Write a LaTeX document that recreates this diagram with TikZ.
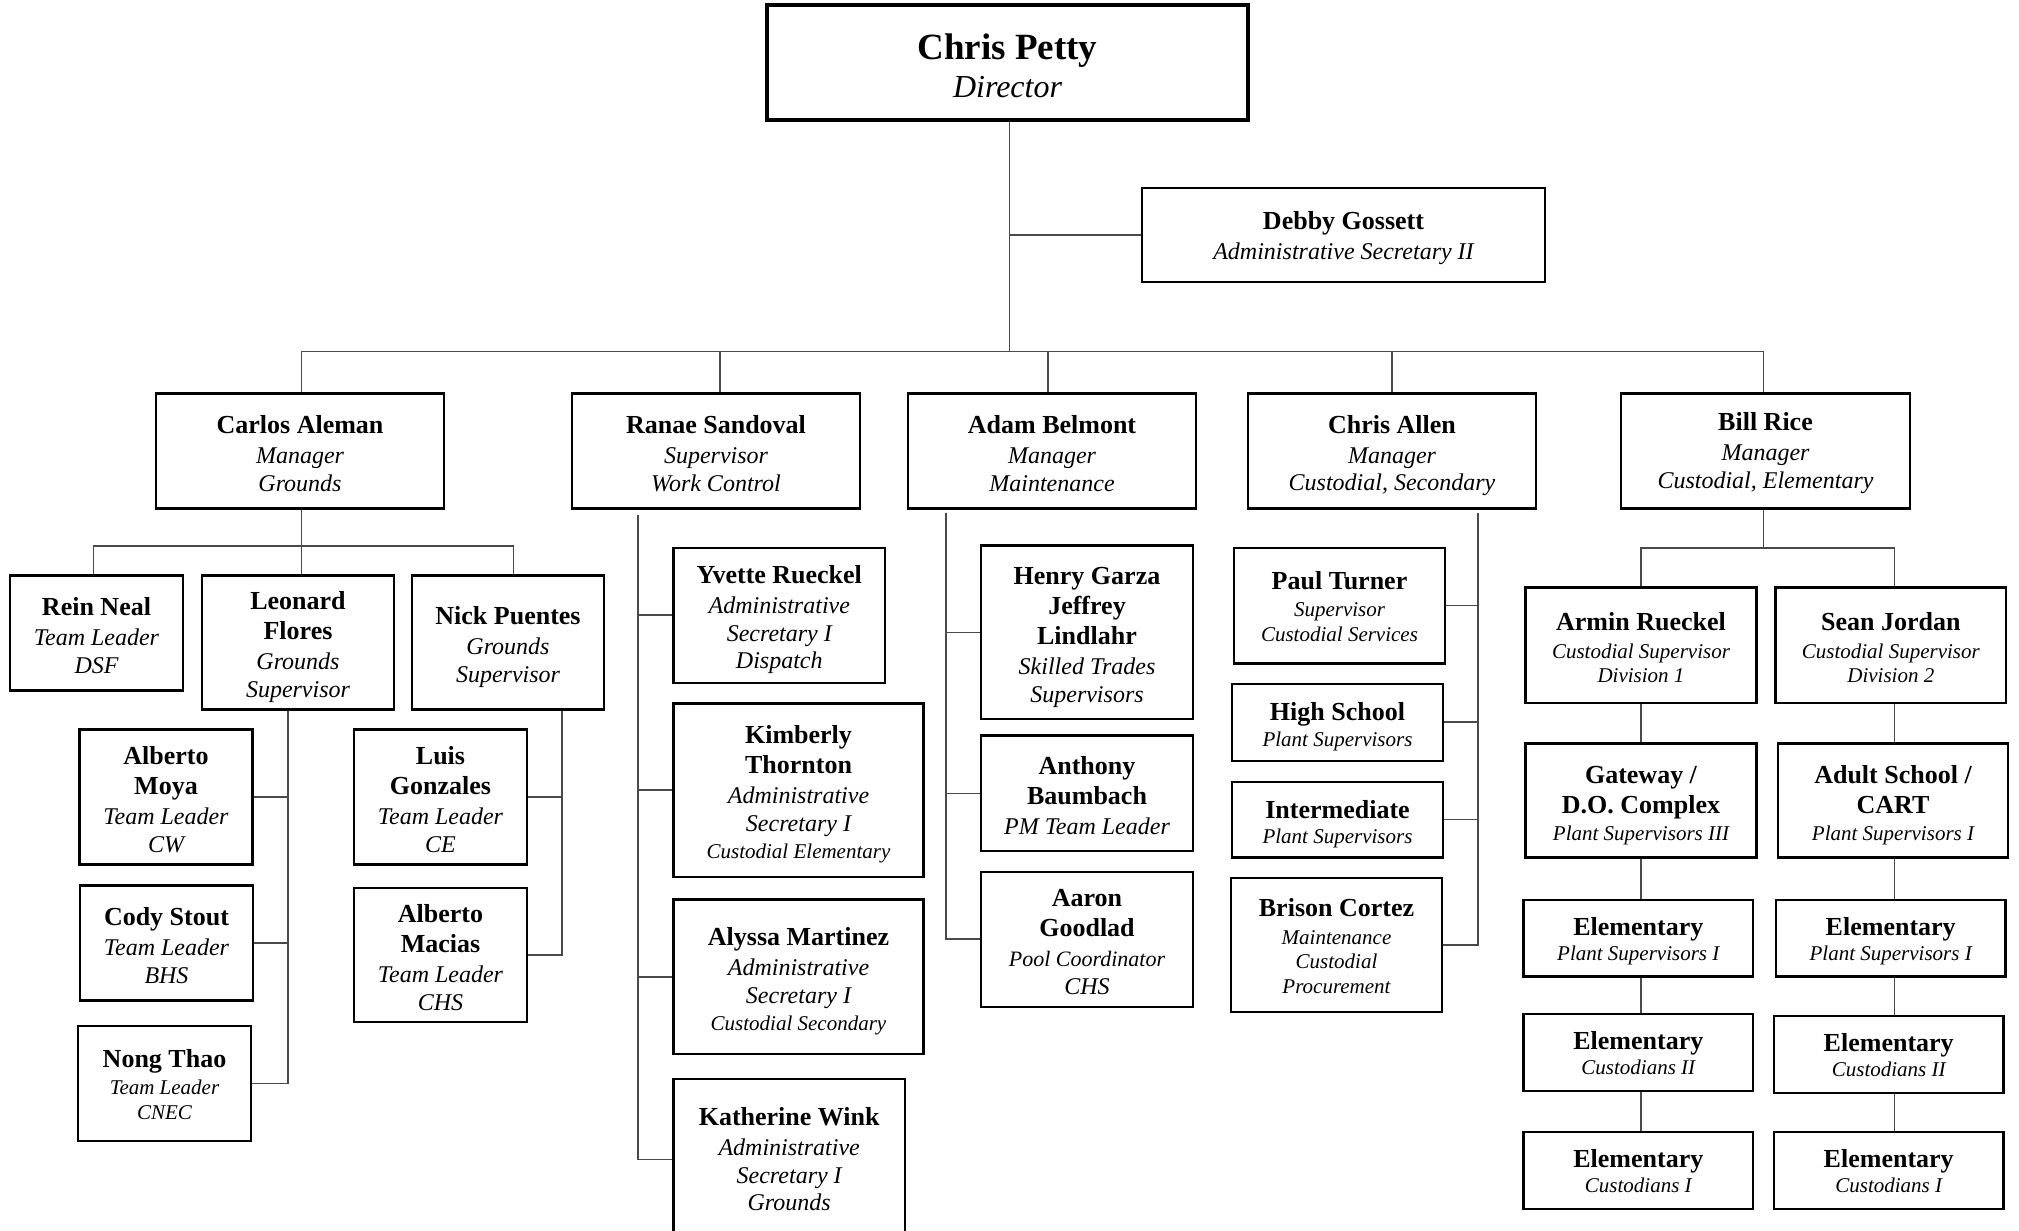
\documentclass[tikz,border=0pt]{standalone}
\usepackage{fontspec}
\setmainfont{Liberation Serif}
\definecolor{linegray}{HTML}{4A4A4A}
\newcommand{\tophgt}{27.5pt}
\newcommand{\nm}[1]{{\fontsize{26}{28}\selectfont\bfseries\upshape #1}}
\newcommand{\nmt}[1]{{\fontsize{26}{28}\selectfont\bfseries\upshape\rule{0pt}{\tophgt}#1}}
\newcommand{\sml}[1]{{\fontsize{21}{24}\selectfont #1}}
\tikzset{
  box/.style={draw=black, line width=2.4pt, fill=white, inner sep=0pt, align=center,
    font=\fontsize{24}{27.5}\selectfont\itshape,
    execute at end node={\rule[-5pt]{0pt}{5pt}}},
  sbox/.style={box, font=\fontsize{21}{24.5}\selectfont\itshape},
  toph/.code={\def\tophgt{#1}},
  conn/.style={draw=linegray, line width=1.5pt},
}
\begin{document}
\begin{tikzpicture}[x=1pt,y=-1pt]
\useasboundingbox (0,0) rectangle (2019,1231);

% ---------- top ----------
\node[box, line width=3.6pt, minimum width=481pt, minimum height=115pt, font=\fontsize{32}{38}\selectfont\itshape]
  (cp) at (1007.5,62.5) {{\fontsize{37}{40}\selectfont\bfseries\upshape\rule{0pt}{37pt}Chris Petty}\\Director};
\node[box, line width=2pt, minimum width=403pt, minimum height=94pt, toph=23.6pt]
  (debby) at (1343.5,235) {\nmt{Debby Gossett}\\[2.5pt]Administrative Secretary II};

% ---------- level 2 ----------
\node[box, minimum width=288pt, minimum height=115pt] (carlos) at (300,451) {\nmt{Carlos Aleman}\\[2.5pt]Manager\\Grounds};
\node[box, minimum width=288pt, minimum height=115pt] (ranae) at (716,451) {\nmt{Ranae Sandoval}\\[2.5pt]Supervisor\\Work Control};
\node[box, minimum width=288pt, minimum height=115pt] (adam) at (1052,451) {\nmt{Adam Belmont}\\[2.5pt]Manager\\Maintenance};
\node[box, minimum width=288pt, minimum height=115pt] (callen) at (1392,451) {\nmt{Chris Allen}\\[2.5pt]Manager\\Custodial, Secondary};
\node[box, minimum width=289pt, minimum height=115pt, toph=22pt] (bill) at (1765.5,451) {\nmt{Bill Rice}\\[2.5pt]Manager\\Custodial, Elementary};

% ---------- grounds ----------
\node[box, minimum width=173pt, minimum height=115pt] (rein) at (96.5,633) {\nmt{Rein Neal}\\[2.5pt]Team Leader\\DSF};
\node[box, minimum width=192pt, minimum height=134pt] (leonard) at (298,642.5) {\nmt{Leonard}\\[2.5pt]\nm{Flores}\\[2.5pt]Grounds\\Supervisor};
\node[box, minimum width=192pt, minimum height=134pt] (nick) at (508,642.5) {\nmt{Nick Puentes}\\[2.5pt]Grounds\\Supervisor};
\node[box, minimum width=173pt, minimum height=135pt] (moya) at (166,797) {\nmt{Alberto}\\[2.5pt]\nm{Moya}\\[2.5pt]Team Leader\\CW};
\node[box, minimum width=173pt, minimum height=115pt] (cody) at (166.5,943) {\nmt{Cody Stout}\\[2.5pt]Team Leader\\BHS};
\node[sbox, minimum width=173pt, minimum height=115pt, toph=24pt] (nong) at (164.5,1083.5) {\nmt{Nong Thao}\\[3pt]Team Leader\\CNEC};
\node[box, minimum width=173pt, minimum height=135pt] (luis) at (440.5,797) {\nmt{Luis}\\[2.5pt]\nm{Gonzales}\\[2.5pt]Team Leader\\CE};
\node[box, minimum width=173pt, minimum height=134pt] (macias) at (440.5,955) {\nmt{Alberto}\\[2.5pt]\nm{Macias}\\[2.5pt]Team Leader\\CHS};

% ---------- work control ----------
\node[box, minimum width=211.4pt, minimum height=135pt] (yvette) at (779.3,615.2) {\nmt{Yvette Rueckel}\\[2.5pt]Administrative\\Secretary I\\Dispatch};
\node[box, minimum width=250pt, minimum height=173.4pt] (kim) at (798.5,790) {\nmt{Kimberly}\\[2.5pt]\nm{Thornton}\\[2.5pt]Administrative\\Secretary I\\\sml{Custodial Elementary}};
\node[box, minimum width=250pt, minimum height=154.3pt] (alyssa) at (798.5,976.8) {\nmt{Alyssa Martinez}\\[2.5pt]Administrative\\Secretary I\\\sml{Custodial Secondary}};
\node[box, minimum width=231.1pt, minimum height=161pt, toph=22.4pt] (kath) at (789.2,1159.6) {\nmt{Katherine Wink}\\[2.5pt]Administrative\\Secretary I\\Grounds};

% ---------- maintenance ----------
\node[box, minimum width=211.5pt, minimum height=173.3pt] (henry) at (1087,632.3) {\nmt{Henry Garza}\\[2.5pt]\nm{Jeffrey}\\[2.5pt]\nm{Lindlahr}\\[2.5pt]Skilled Trades\\Supervisors};
\node[box, minimum width=211.5pt, minimum height=115.3pt] (anthony) at (1087,793.3) {\nmt{Anthony}\\[2.5pt]\nm{Baumbach}\\[2.5pt]PM Team Leader};
\node[box, minimum width=211.5pt, minimum height=135pt] (aaron) at (1087,939.2) {\nmt{Aaron}\\[2.5pt]\nm{Goodlad}\\[2.5pt]{\fontsize{22}{24}\selectfont Pool Coordinator}\\CHS};

% ---------- custodial secondary ----------
\node[sbox, minimum width=211.4pt, minimum height=115.6pt, toph=24pt] (paul) at (1339.5,605.5) {\nmt{Paul Turner}\\[3pt]Supervisor\\Custodial Services};
\node[sbox, minimum width=211.5pt, minimum height=77pt] (hs) at (1337.5,722.2) {\nmt{High School}\\[1pt]Plant Supervisors};
\node[sbox, minimum width=211.5pt, minimum height=75.8pt] (inter) at (1337.5,819.6) {\nmt{Intermediate}\\[1pt]Plant Supervisors};
\node[sbox, minimum width=211pt, minimum height=134pt, toph=25pt] (brison) at (1336.5,945) {\nmt{Brison Cortez}\\[3pt]Maintenance\\Custodial\\Procurement};

% ---------- custodial elementary ----------
\node[sbox, minimum width=231pt, minimum height=115.3pt] (armin) at (1641,645.3) {\nmt{Armin Rueckel}\\[3pt]Custodial Supervisor\\Division 1};
\node[sbox, minimum width=230.8pt, minimum height=115.3pt] (sean) at (1890.8,645.3) {\nmt{Sean Jordan}\\[3pt]Custodial Supervisor\\Division 2};
\node[sbox, minimum width=231pt, minimum height=114pt] (gate) at (1641,800.4) {\nmt{Gateway /}\\[5.5pt]\nm{D.O. Complex}\\[2.5pt]Plant Supervisors III};
\node[sbox, minimum width=230pt, minimum height=114pt] (adult) at (1893,800.4) {\nmt{Adult School /}\\[5.5pt]\nm{CART}\\[2.5pt]Plant Supervisors I};
\node[sbox, minimum width=229.5pt, minimum height=76.7pt, toph=24pt] (epl) at (1638.3,938.3) {\nmt{Elementary}\\[1pt]Plant Supervisors I};
\node[sbox, minimum width=229.8pt, minimum height=76.7pt, toph=24pt] (epr) at (1890.7,938.3) {\nmt{Elementary}\\[1pt]Plant Supervisors I};
\node[sbox, minimum width=229.5pt, minimum height=77pt, toph=25pt] (c2l) at (1638.3,1052.2) {\nmt{Elementary}\\[1pt]Custodians II};
\node[sbox, minimum width=229.8pt, minimum height=77pt, toph=25pt] (c2r) at (1888.7,1054.2) {\nmt{Elementary}\\[1pt]Custodians II};
\node[sbox, minimum width=229.5pt, minimum height=77pt, toph=25pt] (c1l) at (1638.3,1170.2) {\nmt{Elementary}\\[1pt]Custodians I};
\node[sbox, minimum width=229.8pt, minimum height=77pt, toph=25pt] (c1r) at (1888.7,1170.2) {\nmt{Elementary}\\[1pt]Custodians I};

% ---------- connectors: top ----------
\coordinate (topbus) at (0,351.5);
\coordinate (cpd) at ([xshift=2pt]cp.south);
\coordinate (cad) at ([xshift=1.7pt]carlos.north);
\coordinate (rad) at ([xshift=4pt]ranae.north);
\coordinate (abd) at ([xshift=-4pt]adam.north);
\coordinate (brd) at ([xshift=-1.8pt]bill.north);
\draw[conn] (cpd) -- (cpd |- topbus);
\draw[conn] (debby.west) -- (debby.west -| cpd);
\draw[conn] (cad) -- (cad |- topbus) -| (brd);
\draw[conn] (rad) -- (rad |- topbus);
\draw[conn] (abd) -- (abd |- topbus);
\draw[conn] (callen.north) -- (callen.north |- topbus);

% ---------- connectors: grounds ----------
\coordinate (gbus) at (0,546);
\coordinate (cas) at ([xshift=1.7pt]carlos.south);
\coordinate (rnd) at ([xshift=-2.8pt]rein.north);
\coordinate (npd) at ([xshift=5.6pt]nick.north);
\draw[conn] (cas) -- (cas |- leonard.north);
\draw[conn] (rnd) -- (rnd |- gbus) -| (npd);
\coordinate (lf) at ([xshift=-10pt]leonard.south);
\draw[conn] (lf) -- (lf |- nong.east) -- (nong.east);
\draw[conn] (moya.east) -- (moya.east -| lf);
\draw[conn] (cody.east) -- (cody.east -| lf);
\coordinate (np) at ([xshift=54pt]nick.south);
\draw[conn] (np) -- (np |- macias.east) -- (macias.east);
\draw[conn] (luis.east) -- (luis.east -| np);

% ---------- connectors: work control ----------
\coordinate (rs) at ([xshift=-78pt,yshift=-5pt]ranae.south);
\draw[conn] (rs) -- (rs |- kath.west) -- (kath.west);
\draw[conn] (yvette.west) -- (yvette.west -| rs);
\draw[conn] (kim.west) -- (kim.west -| rs);
\draw[conn] (alyssa.west) -- (alyssa.west -| rs);

% ---------- connectors: maintenance ----------
\coordinate (ab) at ([xshift=-106pt,yshift=-3pt]adam.south);
\draw[conn] (ab) -- (ab |- aaron.west) -- (aaron.west);
\draw[conn] (henry.west) -- (henry.west -| ab);
\draw[conn] (anthony.west) -- (anthony.west -| ab);

% ---------- connectors: custodial secondary ----------
\coordinate (ca) at ([xshift=86pt,yshift=-3pt]callen.south);
\draw[conn] (ca) -- (ca |- brison.east) -- (brison.east);
\draw[conn] (paul.east) -- (paul.east -| ca);
\draw[conn] (hs.east) -- (hs.east -| ca);
\draw[conn] (inter.east) -- (inter.east -| ca);

% ---------- connectors: custodial elementary ----------
\coordinate (ebus) at (0,548);
\coordinate (bs) at ([xshift=-1.8pt]bill.south);
\coordinate (scol) at ([xshift=3.5pt]sean.north);
\draw[conn] (bs) -- (bs |- ebus);
\draw[conn] (armin.north) -- (armin.north |- ebus) -| (scol);
\draw[conn] (armin.south) -- (armin.south |- gate.north);
\draw[conn] (gate.south) -- (gate.south |- epl.north);
\draw[conn] (gate.south |- epl.south) -- (gate.south |- c2l.north);
\draw[conn] (gate.south |- c2l.south) -- (gate.south |- c1l.north);
\draw[conn] (scol |- sean.south) -- (scol |- adult.north);
\draw[conn] (scol |- adult.south) -- (scol |- epr.north);
\draw[conn] (scol |- epr.south) -- (scol |- c2r.north);
\draw[conn] (scol |- c2r.south) -- (scol |- c1r.north);
\end{tikzpicture}
\end{document}
